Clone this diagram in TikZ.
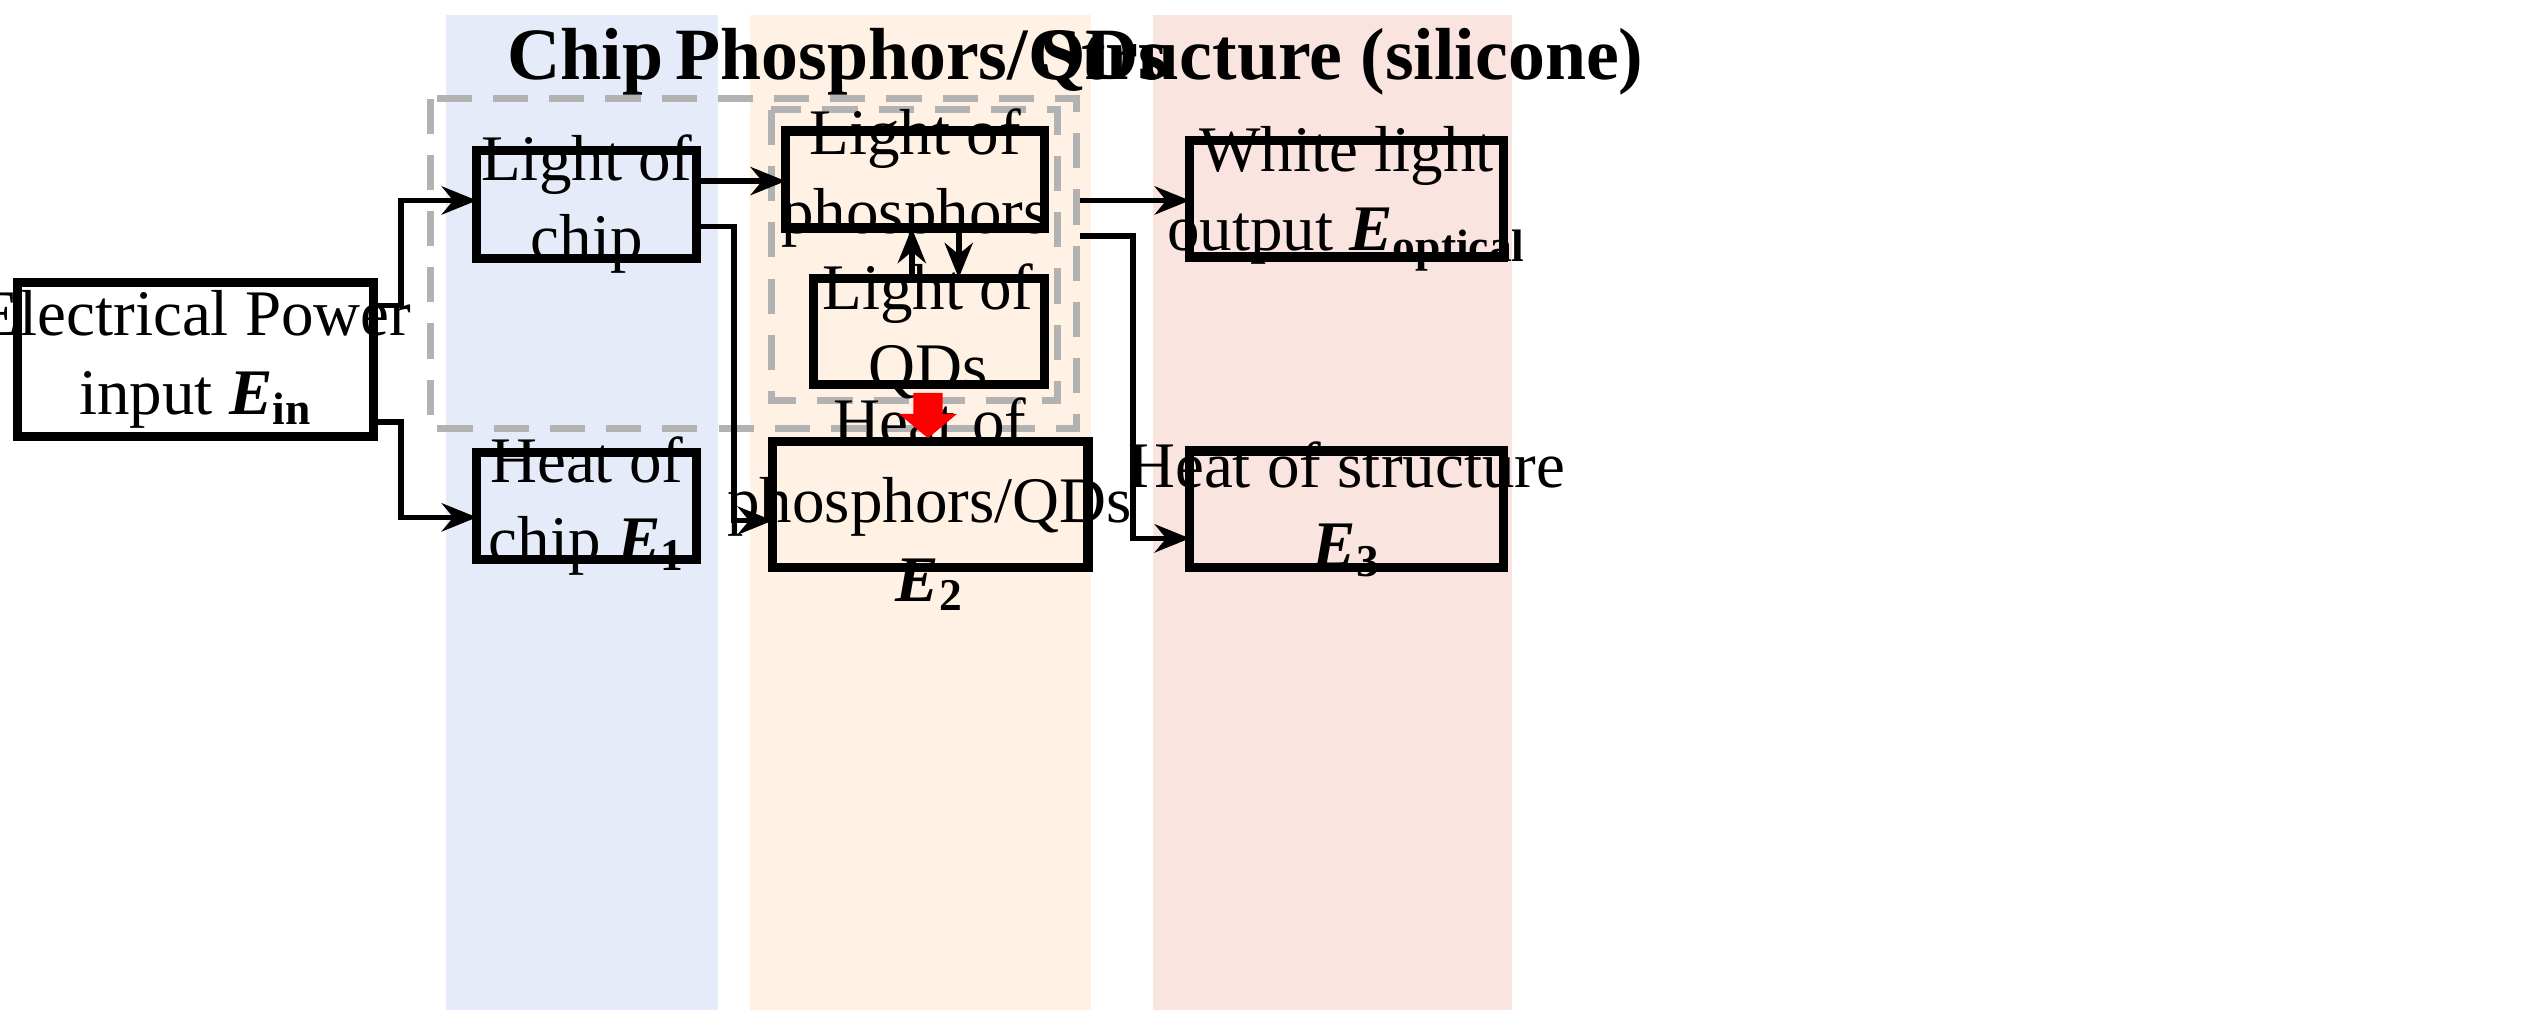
\documentclass[tikz,border=0pt]{standalone}
\usepackage{fontspec}
\setmainfont{Liberation Serif}
\usetikzlibrary{arrows.meta}
\newcommand{\myE}[1]{\textbf{\textit{E}}\textsubscript{\textbf{#1}}}
\begin{document}
\begin{tikzpicture}[x=0.01617cm,y=-0.01617cm,
  lbl/.style={align=center,font=\fontsize{18.5}{22.5}\selectfont},
  bx/.style={line width=2.6pt},
  arr/.style={-{Stealth[length=10pt,width=8pt]},line width=1.6pt},
  ttl/.style={font=\fontsize{21}{25}\selectfont\bfseries},
  dsh/.style={draw=gray!60,dash pattern=on 10pt off 6pt,line width=2pt}]
\useasboundingbox (0,0) rectangle (1560,629);
\fill[cyan!50!blue!10] (276,9) rectangle (444,625);
\fill[orange!10] (464,9) rectangle (675,625);
\fill[red!40!brown!15] (713,9) rectangle (935,625);
\node[ttl] (t1) at (362,38) {Chip};
\node[ttl] (t2) at (570,38) {Phosphors/QDs};
\node[ttl] (t3) at (830,38) {Structure (silicone)};
\draw[dsh] (266,61) rectangle (666,265);
\draw[dsh] (477,68) rectangle (654,248);
\draw[bx] (11,175) rectangle (231,270);
\node[lbl] (ept) at (121,222) {Electrical Power\\input \myE{in}};
\draw[bx] (295,93) rectangle (431,160);
\node[lbl] (lc) at (363,126) {Light of\\chip};
\draw[bx] (295,280) rectangle (431,346);
\node[lbl] (hc) at (363,313) {Heat of\\chip \myE{1}};
\draw[bx] (486,81) rectangle (646,141);
\node[lbl] (lp) at (566,110) {Light of\\phosphors};
\draw[bx] (503,172) rectangle (646,238);
\node[lbl] (lq) at (574,205) {Light of\\QDs};
\draw[bx] (478,273) rectangle (673,351);
\node[lbl] (hp) at (575,312) {Heat of\\phosphors/QDs\\\myE{2}};
\draw[bx] (736,87) rectangle (930,159);
\node[lbl] (wl) at (833,123) {White light\\output \myE{optical}};
\draw[bx] (736,279) rectangle (930,351);
\node[lbl] (hs) at (833,315) {Heat of structure\\\myE{3}};
\coordinate (a1) at (231,189); \coordinate (a2) at (295,124);
\coordinate (b1) at (231,261); \coordinate (b2) at (295,320);
\draw[arr] (a1) -| (248,124) -- (a2);
\draw[arr] (b1) -| (248,320) -- (b2);
\coordinate (c1) at (431,112); \coordinate (c2) at (486,112);
\draw[arr] (c1) -- (c2);
\coordinate (d1) at (431,140); \coordinate (d2) at (478,322);
\draw[arr] (d1) -| (454,322) -- (d2);
\coordinate (e1) at (593,141); \coordinate (e2) at (593,172);
\draw[arr] (e1) -- (e2);
\coordinate (f1) at (564,172); \coordinate (f2) at (564,141);
\draw[arr] (f1) -- (f2);
\coordinate (g1) at (668,124); \coordinate (g2) at (736,124);
\draw[arr] (g1) -- (g2);
\coordinate (h1) at (668,146); \coordinate (h2) at (736,333);
\draw[arr] (h1) -| (701,333) -- (h2);
\fill[red] (565,243) -- (583,243) -- (583,256) -- (592,256) -- (574,271) -- (556,256) -- (565,256) -- cycle;
\end{tikzpicture}
\end{document}
